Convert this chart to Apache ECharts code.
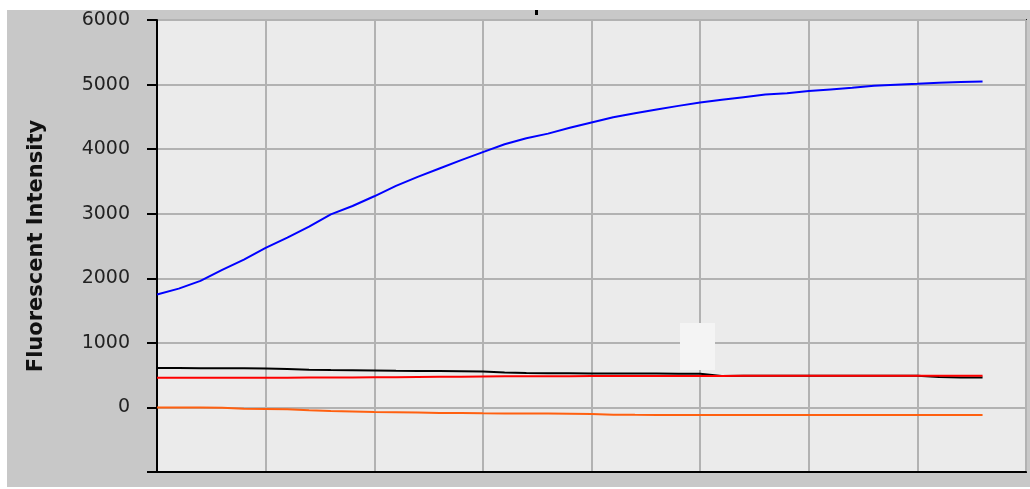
<!DOCTYPE html>
<html>
<head>
<meta charset="utf-8">
<script src="https://cdn.jsdelivr.net/npm/echarts@6/dist/echarts.min.js"></script>
<style>
html,body{margin:0;padding:0;background:#fff;}
#c{width:1030px;height:489px;}
</style>
</head>
<body>
<div id="c"></div>
<script>
// x positions (cycles)
const cycles = [0,0.2,0.4,0.6,0.8,1.0,1.2,1.4,1.6,1.8,2.0,2.2,2.4,2.6,2.8,3.0,3.2,3.4,3.6,3.8,4.0,4.2,4.4,4.6,4.8,5.0,5.2,5.4,5.6,5.8,6.0,6.2,6.4,6.6,6.8,7.0,7.2,7.4,7.6];
const blueValues = [1750,1840,1960,2130,2290,2470,2630,2800,2990,3120,3270,3430,3570,3700,3830,3954,4075,4170,4240,4330,4414,4495,4555,4615,4670,4721,4765,4805,4845,4865,4900,4925,4950,4980,4998,5013,5030,5040,5048];
const blackValues = [610,610,608,607,605,603,595,585,578,575,572,567,565,563,560,555,540,533,530,528,527,526,525,524,522,520,488,489,489,489,490,490,490,491,491,491,470,462,462];
const redValues = [458,458,459,459,460,460,461,462,463,464,466,468,471,474,477,479,481,482,483,484,485,486,486,487,487,488,488,489,489,489,490,490,490,491,491,491,492,492,492];
const orangeValues = [0,0,0,-5,-20,-25,-30,-45,-55,-62,-70,-75,-80,-85,-88,-92,-93,-94,-95,-97,-100,-112,-115,-117,-118,-118,-118,-118,-118,-118,-118,-118,-118,-118,-118,-118,-118,-118,-118];
const yTicks = [-1000,0,1000,2000,3000,4000,5000,6000];

const pairs = v => cycles.map((x,i)=>[x,v[i]]);
const chart = echarts.init(document.getElementById('c'));
const lineSeries = (vals,color)=>({type:'line',data:pairs(vals),showSymbol:false,symbol:'none',lineStyle:{color:color,width:2},silent:true,animation:false});
chart.setOption({
  animation:false,
  backgroundColor:'#ffffff',
  graphic:[
    {type:'rect',z:-10,shape:{x:7,y:10,width:1023,height:477},style:{fill:'#c8c8c8'}},
    {type:'rect',z:1,shape:{x:680,y:323,width:35,height:47},style:{fill:'#f4f4f4'}},
    {type:'rect',z:3,shape:{x:535,y:10,width:3,height:5},style:{fill:'#000'}}
  ],
  grid:{left:157,top:20,right:4,bottom:17,show:true,backgroundColor:'#ebebeb',borderColor:'#222',borderWidth:2},
  xAxis:{type:'value',min:0,max:8,interval:1,
    axisLine:{show:true,onZero:false,lineStyle:{color:'#000',width:2}},
    axisTick:{show:false},axisLabel:{show:false},
    splitLine:{show:true,lineStyle:{color:'#b2b2b2',width:2}}},
  yAxis:{type:'value',min:yTicks[0],max:yTicks[yTicks.length-1],interval:1000,
    name:'Fluorescent Intensity',nameLocation:'middle',nameGap:110,
    nameTextStyle:{fontFamily:'DejaVu Sans',fontWeight:'bold',fontSize:21,color:'#111'},
    axisLine:{show:true,lineStyle:{color:'#000',width:2}},
    axisTick:{show:true,length:10,lineStyle:{color:'#000',width:2}},
    axisLabel:{margin:27,fontFamily:'DejaVu Sans',fontSize:19,color:'#222',
      formatter:v=> v<0 ? '' : String(v)},
    splitLine:{show:true,lineStyle:{color:'#b2b2b2',width:2}}},
  series:[
    lineSeries(blueValues,'#0000ff'),
    lineSeries(orangeValues,'#ff6010'),
    lineSeries(blackValues,'#000000'),
    lineSeries(redValues,'#ff0000')
  ]
});
</script>
</body>
</html>
